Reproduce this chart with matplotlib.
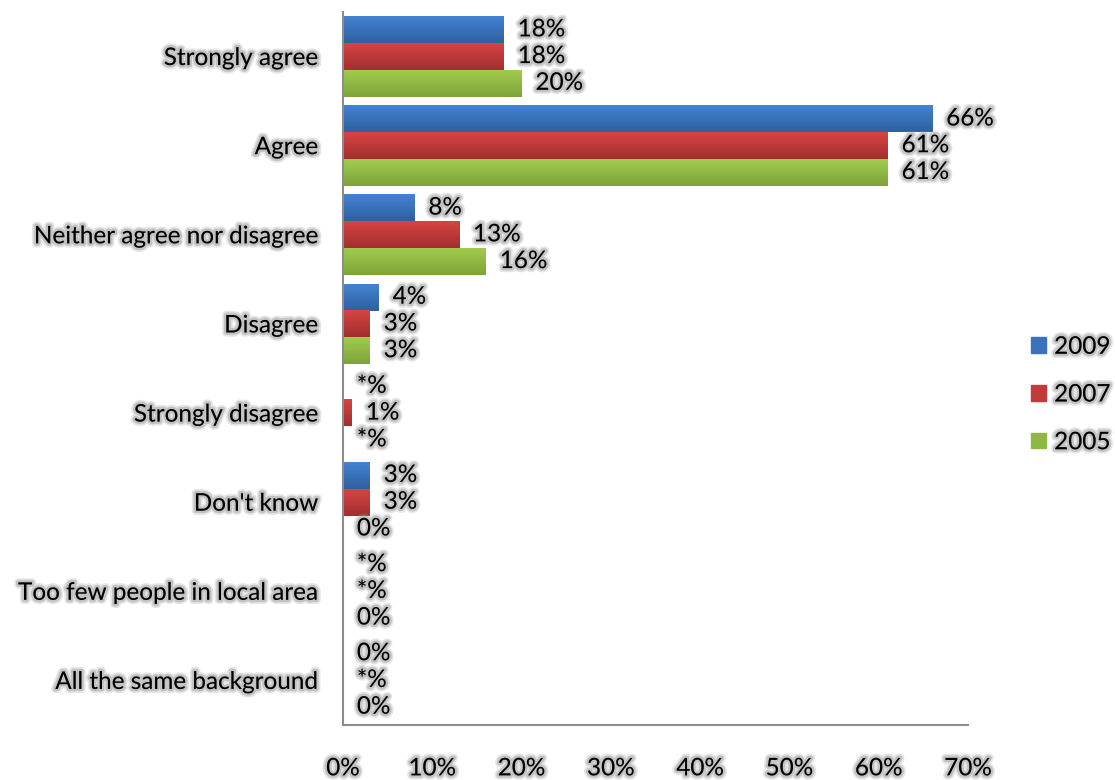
import matplotlib
matplotlib.use("Agg")
import matplotlib.pyplot as plt
import matplotlib.patheffects as pe
import numpy as np
from matplotlib.patches import Rectangle
from matplotlib.colors import LinearSegmentedColormap
from matplotlib.transforms import ScaledTranslation

categories = ["Strongly agree", "Agree", "Neither agree nor disagree", "Disagree",
              "Strongly disagree", "Don't know", "Too few people in local area",
              "All the same background"]
series = ["2009", "2007", "2005"]
v2009 = [18, 66, 8, 4, 0, 3, 0, 0]
v2007 = [18, 61, 13, 3, 1, 3, 0, 0]
v2005 = [20, 61, 16, 3, 0, 0, 0, 0]
l2009 = ["18%", "66%", "8%", "4%", "*%", "3%", "*%", "0%"]
l2007 = ["18%", "61%", "13%", "3%", "1%", "3%", "*%", "*%"]
l2005 = ["20%", "61%", "16%", "3%", "*%", "0%", "0%", "0%"]
xticks = [0, 10, 20, 30, 40, 50, 60, 70]

values = [v2009, v2007, v2005]
labels = [l2009, l2007, l2005]
grad = [("#4383D3", "#2F609F"), ("#D74444", "#A22E2E"), ("#A2CC4E", "#7EA33A")]
mid = ["#3A72BB", "#C03B3B", "#8FB843"]

FONT = ["Lato", "DejaVu Sans"]
FS = 17.5
glow = [pe.Stroke(linewidth=6, foreground="#9a9a9a", alpha=0.25),
        pe.Stroke(linewidth=3.5, foreground="#9a9a9a", alpha=0.45),
        pe.Normal()]

fig = plt.figure(figsize=(11.15, 7.8), dpi=100)
ax = fig.add_axes([343/1115, 1-725/780, (968-343)/1115, (725-12)/780])

n = len(categories)
y = np.arange(n)
h = 0.3
for i, (vals, labs) in enumerate(zip(values, labels)):
    pos = y + (i - 1) * h
    bars = ax.barh(pos, vals, height=h, color=mid[i], linewidth=0)
    cmap = LinearSegmentedColormap.from_list("g%d" % i, [grad[i][0], grad[i][1]])
    for b, lab, v in zip(bars, labs, vals):
        x0, y0 = b.get_x(), b.get_y()
        w, hh = b.get_width(), b.get_height()
        if w > 0:
            b.set_visible(False)
            ax.imshow(np.linspace(0, 1, 64).reshape(-1, 1), cmap=cmap, aspect="auto",
                      extent=[x0, x0 + w, y0 + hh, y0], interpolation="bicubic", zorder=2)
        ax.annotate(lab, (v, y0 + hh / 2), xytext=(10, 0), textcoords="offset points",
                    ha="left", va="center", fontsize=FS, family=FONT, color="black",
                    path_effects=glow, zorder=4)

ax.set_xlim(0, 70)
ax.set_ylim(n - 0.5, -0.5)
ax.set_yticks(y)
ax.set_yticklabels(categories, fontsize=FS, family=FONT)
ax.set_xticks(xticks)
ax.set_xticklabels(["%d%%" % t for t in xticks], fontsize=FS, family=FONT)
shift = ScaledTranslation(7/100, 0, fig.dpi_scale_trans)
for t in ax.get_xticklabels():
    t.set_transform(t.get_transform() + shift)
for t in ax.get_xticklabels() + ax.get_yticklabels():
    t.set_path_effects(glow)
ax.tick_params(axis="both", length=0)
ax.tick_params(axis="x", pad=24)
ax.tick_params(axis="y", pad=18)
for s in ["top", "right"]:
    ax.spines[s].set_visible(False)
for s in ["left", "bottom"]:
    ax.spines[s].set_color("#8c8c8c")
    ax.spines[s].set_linewidth(1.5)

handles = [Rectangle((0, 0), 1, 1, color=c) for c in mid]
leg = fig.legend(handles, series, loc="center left", bbox_to_anchor=(1031/1115, 1-395/780),
                 frameon=False, prop={"family": FONT, "size": FS}, labelspacing=1.1,
                 handlelength=0.6, handleheight=0.6, handletextpad=0.35,
                 borderpad=0, borderaxespad=0)
for t in leg.get_texts():
    t.set_path_effects(glow)

fig.savefig("out.png", dpi=100)
